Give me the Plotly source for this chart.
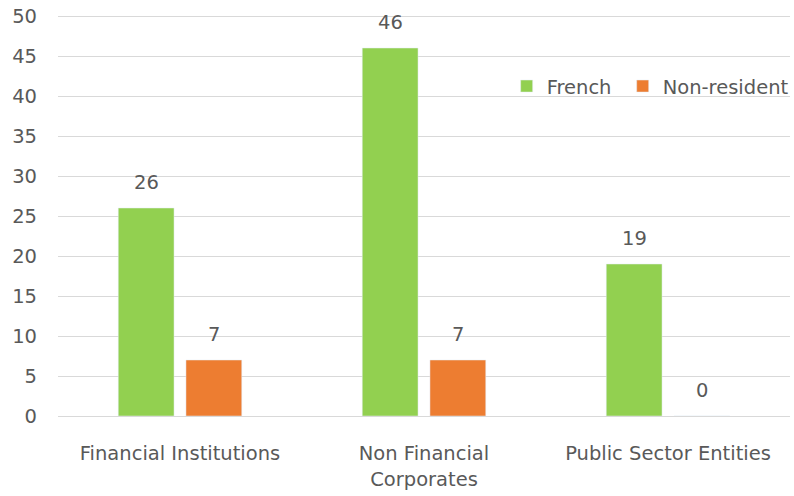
import plotly.graph_objects as go

# data
categories = ["Financial Institutions", "Non Financial Corporates", "Public Sector Entities"]
tick_labels = ["Financial Institutions", "Non Financial<br>Corporates", "Public Sector Entities"]
french = [26, 46, 19]
non_resident = [7, 7, 0]

grey = "#595959"
font = dict(family="DejaVu Sans", size=19.5, color=grey)

bargap = 0.445
fig = go.Figure()
fig.add_trace(go.Bar(x=list(range(3)), y=french, name="French\u00a0", marker_color="#92D050"))
fig.add_trace(go.Bar(x=list(range(3)), y=non_resident, name="Non-resident", marker_color="#ED7D31"))

# value labels above each bar (bar centre sits a quarter group width off the category)
half = (1 - bargap) / 4
for i in range(3):
    for val, dx in ((french[i], -half), (non_resident[i], half)):
        fig.add_annotation(x=i + dx, y=val, text=str(val), showarrow=False,
                           yanchor="middle", yshift=26, font=font)

fig.update_layout(
    width=794, height=496,
    margin=dict(l=58, r=0, t=14, b=80),
    plot_bgcolor="white", paper_bgcolor="white",
    font=font,
    barmode="group", bargap=bargap, bargroupgap=0.176,
    legend=dict(orientation="h", x=1.005, xanchor="right", y=0.82, yanchor="middle",
                bgcolor="rgba(0,0,0,0)", font=font, itemwidth=30),
    showlegend=True,
)
# a little headroom above 50 so the top gridline is not clipped
fig.update_yaxes(range=[0, 50.25], dtick=5, showgrid=True, gridcolor="#d9d9d9", gridwidth=1,
                 zeroline=False, ticks="", ticklabelstandoff=20, tickfont=font,
                 automargin=False, ticklabeloverflow="allow")
fig.update_xaxes(range=[-0.5, 2.5], tickvals=list(range(3)), ticktext=tick_labels,
                 showline=True, linecolor="#d9d9d9", ticks="", ticklabelstandoff=20,
                 tickfont=font, automargin=False)

# drop the default page margin so the chart starts at the window corner
fig.write_html("out.html", config={"displayModeBar": False},
               post_script="document.body.style.margin='0';")
